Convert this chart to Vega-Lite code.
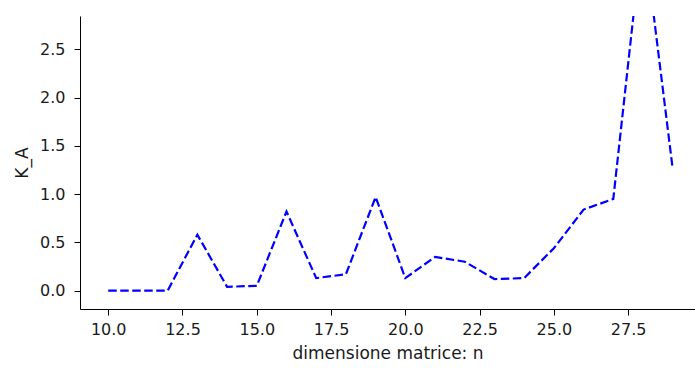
{
  "$schema": "https://vega.github.io/schema/vega-lite/v6.json",
  "width": 615,
  "height": 293,
  "autosize": {"type": "none"},
  "padding": {"left": 80, "top": 16, "right": 0, "bottom": 59},
  "background": "white",
  "config": {
    "view": {"stroke": null},
    "font": "DejaVu Sans",
    "axis": {
      "grid": false,
      "domainColor": "#000000",
      "domainWidth": 1,
      "tickColor": "#000000",
      "tickSize": 6,
      "tickWidth": 1,
      "labelFont": "DejaVu Sans",
      "labelFontSize": 16,
      "labelColor": "#1a1a1a",
      "titleFont": "DejaVu Sans",
      "titleFontSize": 17,
      "titleFontWeight": "normal",
      "titleColor": "#1a1a1a"
    }
  },
  "data": {
    "values": [
      {"n": 10, "k": 0.0},
      {"n": 11, "k": 0.0},
      {"n": 12, "k": 0.0},
      {"n": 13, "k": 0.58},
      {"n": 14, "k": 0.04},
      {"n": 15, "k": 0.05},
      {"n": 16, "k": 0.82},
      {"n": 17, "k": 0.13},
      {"n": 18, "k": 0.17},
      {"n": 19, "k": 0.97},
      {"n": 20, "k": 0.13},
      {"n": 21, "k": 0.35},
      {"n": 22, "k": 0.3},
      {"n": 23, "k": 0.12},
      {"n": 24, "k": 0.13},
      {"n": 25, "k": 0.44},
      {"n": 26, "k": 0.84},
      {"n": 27, "k": 0.95},
      {"n": 28, "k": 3.75},
      {"n": 29, "k": 1.26}
    ]
  },
  "mark": {
    "type": "line",
    "clip": true,
    "color": "#0000ff",
    "strokeWidth": 2.2,
    "strokeDash": [8.5, 3.5]
  },
  "encoding": {
    "x": {
      "field": "n",
      "type": "quantitative",
      "scale": {"domain": [9.05, 29.75], "nice": false, "zero": false},
      "axis": {
        "title": "dimensione matrice: n",
        "values": [10, 12.5, 15, 17.5, 20, 22.5, 25, 27.5],
        "format": ".1f",
        "labelPadding": 6,
        "titlePadding": 8
      }
    },
    "y": {
      "field": "k",
      "type": "quantitative",
      "scale": {"domain": [-0.19, 2.845], "nice": false, "zero": false},
      "axis": {
        "title": "K_A",
        "values": [0, 0.5, 1, 1.5, 2, 2.5],
        "format": ".1f",
        "labelPadding": 9,
        "titlePadding": 8
      }
    }
  }
}
